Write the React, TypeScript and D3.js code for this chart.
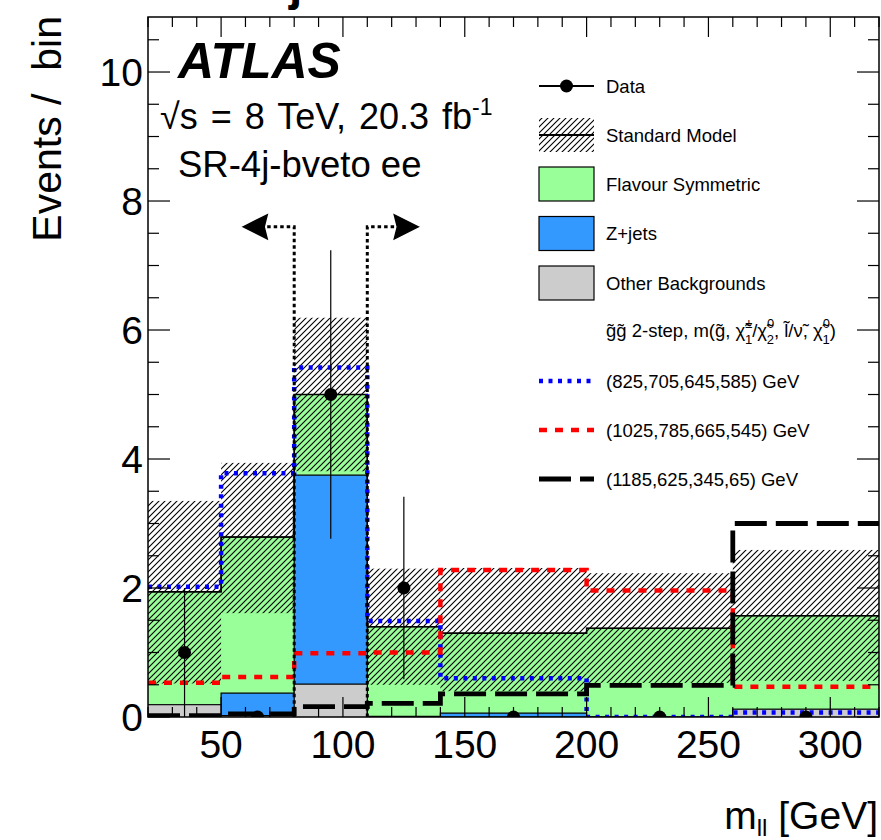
import React from "react";
import * as d3 from "d3";

// ---------- data ----------
const binEdges = [20, 50, 80, 110, 140, 200, 260, 320];
const otherBkg = [0.19, 0.02, 0.51, 0.0, 0.0, 0.0, 0.12];
const zJets = [0.0, 0.35, 3.24, 0.01, 0.06, 0.0, 0.0];
const flavourSym = [1.75, 2.42, 1.25, 1.39, 1.24, 1.375, 1.45];
const smUp = [3.35, 3.94, 6.19, 2.3, 2.31, 2.23, 2.59];
const smDown = [0.52, 1.61, 3.81, 0.5, 0.4, 0.53, 0.56];
const dataCounts = [1, 0, 5, 2, 0, 0, 0];
const sig825 = [2.02, 3.78, 5.42, 1.49, 0.6, 0.0, 0.07];
const sig1025 = [0.53, 0.62, 0.99, 1.0, 2.28, 1.96, 0.47];
const sig1185 = [0.02, 0.05, 0.16, 0.21, 0.36, 0.49, 3.0];
const xTicks = [50, 100, 150, 200, 250, 300];
const xMinorTicks = d3.range(20, 321, 10);
const yTicks = [0, 2, 4, 6, 8, 10];
const yMinorTicks = d3.range(0, 10.9, 0.5);
const cutLow = 80;
const cutHigh = 110;
const cutArrowY = 7.6;

const FONT = "'Liberation Sans', Arial, Helvetica, sans-serif";

export default function App() {
  const L = 148, R = 879, T = 17, B = 717;
  const x = d3.scaleLinear().domain([20, 320]).range([L, R]);
  const y = d3.scaleLinear().domain([0, 10.853]).range([B, T]);
  const nb = binEdges.length - 1;
  const bins = d3.range(nb);

  const cumOther = otherBkg;
  const cumZ = bins.map((i) => otherBkg[i] + zJets[i]);
  const cumTot = bins.map((i) => cumZ[i] + flavourSym[i]);

  const stepPts = (vals: number[]) => {
    const pts: [number, number][] = [];
    bins.forEach((i) => {
      pts.push([binEdges[i], vals[i]]);
      pts.push([binEdges[i + 1], vals[i]]);
    });
    return pts;
  };
  const line = d3
    .line<[number, number]>()
    .x((d) => x(d[0]))
    .y((d) => y(d[1]));
  const area = d3
    .area<[number, number]>()
    .x((d) => x(d[0]))
    .y0(y(0))
    .y1((d) => y(d[1]));

  const layers = [
    { vals: cumTot, fill: "#99ff99" },
    { vals: cumZ, fill: "#3399ff" },
    { vals: cumOther, fill: "#cccccc" },
  ];

  const signals = [
    { vals: sig825, color: "#0000ff", dash: "4 5.5", w: 4.5 },
    { vals: sig1025, color: "#ff0000", dash: "8 8", w: 4.5 },
    { vals: sig1185, color: "#000000", dash: "32 9", w: 4.8 },
  ];

  const xa = x(cutLow), xb = x(cutHigh), ya = y(cutArrowY);
  const arrLen = 51, headLen = 24, headH = 12;

  const legX0 = 539, legX1 = 594, legTx = 606;
  const legRows = [86, 135, 184, 233.5, 283, 332, 381, 430, 479];
  const legFS = 18.5;

  return (
    <svg width={881} height={840} style={{ display: "block", position: "absolute", left: 0, top: 0, background: "#fff" }}>
      <defs>
        <pattern id="hatch" patternUnits="userSpaceOnUse" width={6} height={6}>
          <path d="M0,6 L6,0 M-1.5,1.5 L1.5,-1.5 M4.5,7.5 L7.5,4.5" stroke="#000" strokeWidth={1.1} />
        </pattern>
        <clipPath id="plotClip">
          <rect x={L} y={T} width={R - L} height={B - T} />
        </clipPath>
      </defs>
      <rect x={0} y={0} width={881} height={840} fill="#fff" />

      {/* clipped glyph fragment at top (partially visible in the reference) */}
      <text x={289} y={0} fontFamily={FONT} fontWeight="bold" fontSize={48}>j</text>

      <g clipPath="url(#plotClip)">
        {layers.map((ly, k) => (
          <g key={k}>
            <path d={area(stepPts(ly.vals)) || ""} fill={ly.fill} stroke="none" />
            <path d={line(stepPts(ly.vals)) || ""} fill="none" stroke="#000" strokeWidth={1.2} />
          </g>
        ))}
        {bins.map((i) => (
          <rect
            key={i}
            x={x(binEdges[i])}
            y={y(smUp[i])}
            width={x(binEdges[i + 1]) - x(binEdges[i])}
            height={y(smDown[i]) - y(smUp[i])}
            fill="url(#hatch)"
          />
        ))}
        <path d={line(stepPts(cumTot)) || ""} fill="none" stroke="#000" strokeWidth={1.5} />

        {signals.map((s, k) => (
          <path key={k} d={line(stepPts(s.vals)) || ""} fill="none" stroke={s.color} strokeWidth={s.w} strokeDasharray={s.dash} />
        ))}

        <path
          d={`M${xa - arrLen + headLen},${ya} L${xa},${ya} L${xa},${y(0)} M${xb},${y(0)} L${xb},${ya} L${xb + arrLen - headLen},${ya}`}
          fill="none"
          stroke="#000"
          strokeWidth={3}
          strokeDasharray="3.5 3"
        />
        <path
          d={`M${xa - arrLen},${ya} L${xa - arrLen + headLen},${ya - headH} L${xa - arrLen + headLen - 3},${ya} L${xa - arrLen + headLen},${ya + headH} Z`}
          fill="#000"
          stroke="#000"
          strokeWidth={1.5}
        />
        <path
          d={`M${xb + arrLen},${ya} L${xb + arrLen - headLen},${ya - headH} L${xb + arrLen - headLen + 3},${ya} L${xb + arrLen - headLen},${ya + headH} Z`}
          fill="#000"
          stroke="#000"
          strokeWidth={1.5}
        />

        {bins.map((i) => {
          const cx = x((binEdges[i] + binEdges[i + 1]) / 2);
          const v = dataCounts[i];
          const e = Math.sqrt(v);
          return (
            <g key={i}>
              {v > 0 && <line x1={cx} x2={cx} y1={y(v + e)} y2={y(v - e)} stroke="#000" strokeWidth={1.2} />}
              <circle cx={cx} cy={y(v)} r={6.5} fill="#000" />
            </g>
          );
        })}
      </g>

      <rect x={L} y={T} width={R - L} height={B - T} fill="none" stroke="#000" strokeWidth={1.5} />
      {xMinorTicks.map((t) => {
        const major = xTicks.includes(t);
        const len = major ? 20 : 10;
        return (
          <g key={"xt" + t}>
            <line x1={x(t)} x2={x(t)} y1={B} y2={B - len} stroke="#000" strokeWidth={1.2} />
            <line x1={x(t)} x2={x(t)} y1={T} y2={T + len} stroke="#000" strokeWidth={1.2} />
          </g>
        );
      })}
      {yMinorTicks.map((t) => {
        const major = yTicks.includes(t);
        const len = major ? 22 : 11;
        return (
          <g key={"yt" + t}>
            <line x1={L} x2={L + len} y1={y(t)} y2={y(t)} stroke="#000" strokeWidth={1.2} />
            <line x1={R} x2={R - len} y1={y(t)} y2={y(t)} stroke="#000" strokeWidth={1.2} />
          </g>
        );
      })}
      {xTicks.map((t) => (
        <text key={"xl" + t} x={x(t)} y={758} textAnchor="middle" fontFamily={FONT} fontSize={39}>
          {t}
        </text>
      ))}
      {yTicks.map((t) => (
        <text key={"yl" + t} x={143} y={y(t) + 14} textAnchor="end" fontFamily={FONT} fontSize={39}>
          {t}
        </text>
      ))}

      <text x={878} y={829} textAnchor="end" fontFamily={FONT} fontSize={39}>
        m<tspan fontSize={24} dy={7}>ll</tspan>
        <tspan dy={-7}> [GeV]</tspan>
      </text>
      <text
        transform="translate(61,16) rotate(-90)"
        textAnchor="end"
        fontFamily={FONT}
        fontSize={41}
        style={{ whiteSpace: "pre" }}
      >
        {"Events /  bin"}
      </text>

      <text x={178} y={78} fontFamily={FONT} fontWeight="bold" fontStyle="italic" fontSize={50}>
        ATLAS
      </text>
      <text x={160} y={129} fontFamily={FONT} fontSize={36} wordSpacing={3}>
        √s = 8 TeV, 20.3 fb<tspan fontSize={23} dy={-14}>-1</tspan>
      </text>
      <text x={178} y={177} fontFamily={FONT} fontSize={36.5}>
        SR-4j-bveto ee
      </text>

      <g fontFamily={FONT} fontSize={legFS}>
        <line x1={legX0} x2={legX1} y1={legRows[0]} y2={legRows[0]} stroke="#000" strokeWidth={2} />
        <circle cx={(legX0 + legX1) / 2} cy={legRows[0]} r={6.5} fill="#000" />
        <text x={legTx} y={legRows[0] + 6.5}>Data</text>

        <rect x={legX0} y={legRows[1] - 17} width={legX1 - legX0} height={34} fill="url(#hatch)" />
        <line x1={legX0} x2={legX1} y1={legRows[1]} y2={legRows[1]} stroke="#000" strokeWidth={2} />
        <text x={legTx} y={legRows[1] + 6.5}>Standard Model</text>

        <rect x={legX0} y={legRows[2] - 17} width={legX1 - legX0} height={34} fill="#99ff99" stroke="#000" strokeWidth={1.2} />
        <text x={legTx} y={legRows[2] + 6.5}>Flavour Symmetric</text>

        <rect x={legX0} y={legRows[3] - 17} width={legX1 - legX0} height={34} fill="#3399ff" stroke="#000" strokeWidth={1.2} />
        <text x={legTx} y={legRows[3] + 6.5}>Z+jets</text>

        <rect x={legX0} y={legRows[4] - 17} width={legX1 - legX0} height={34} fill="#cccccc" stroke="#000" strokeWidth={1.2} />
        <text x={legTx} y={legRows[4] + 6.5}>Other Backgrounds</text>

        <text x={legTx} y={legRows[5] + 5} fontSize={18.5}>
          g̃g̃ 2-step, m(g̃, χ̃<tspan fontSize={13} dy={-9}>±</tspan>
          <tspan fontSize={13} dx={-7.5} dy={16}>1</tspan>
          <tspan dy={-7}>/χ̃</tspan>
          <tspan fontSize={13} dy={-9}>0</tspan>
          <tspan fontSize={13} dx={-7.5} dy={16}>2</tspan>
          <tspan dy={-7}>, l̃/ν̃, χ̃</tspan>
          <tspan fontSize={13} dy={-9}>0</tspan>
          <tspan fontSize={13} dx={-7.5} dy={16}>1</tspan>
          <tspan dy={-7}>)</tspan>
        </text>

        {signals.map((s, k) => (
          <line
            key={k}
            x1={legX0}
            x2={legX1}
            y1={legRows[6 + k]}
            y2={legRows[6 + k]}
            stroke={s.color}
            strokeWidth={s.w}
            strokeDasharray={s.dash}
          />
        ))}
        <text x={legTx} y={legRows[6] + 6.5}>(825,705,645,585) GeV</text>
        <text x={legTx} y={legRows[7] + 6.5}>(1025,785,665,545) GeV</text>
        <text x={legTx} y={legRows[8] + 6.5}>(1185,625,345,65) GeV</text>
      </g>
    </svg>
  );
}
